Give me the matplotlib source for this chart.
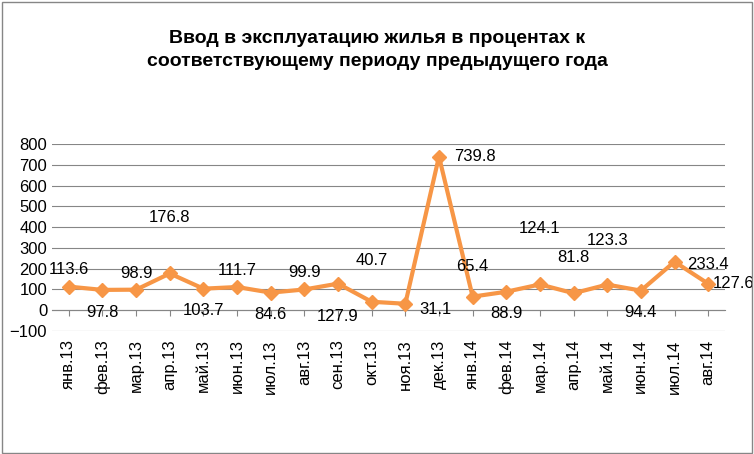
import matplotlib
matplotlib.use("Agg")
import matplotlib.pyplot as plt

categories = ["янв.13","фев.13","мар.13","апр.13","май.13","июн.13","июл.13","авг.13","сен.13","окт.13","ноя.13",
              "дек.13","янв.14","фев.14","мар.14","апр.14","май.14","июн.14","июл.14","авг.14"]
values = [113.6,97.8,98.9,176.8,103.7,111.7,84.6,99.9,127.9,40.7,31.1,739.8,65.4,88.9,124.1,81.8,123.3,94.4,233.4,127.6]
labels = ["113.6","97.8","98.9","176.8","103.7","111.7","84.6","99.9","127.9","40.7","31.1","739.8",
          "65.4","88.9","124.1","81.8","123.3","94.4","233.4","127.6"]
# label offsets in points (dx, dy)
offsets = [(0,12),(0,-16),(0,12),(0,40),(0,-16),(0,12),(0,-16),(0,12),(0,-24),(0,30),(22,-4),(26,0),
           (0,22),(0,-16),(0,40),(0,26),(0,32),(0,-16),(24,-2),(18,0)]

fig = plt.figure(figsize=(7.54,4.54), dpi=100)
ax = fig.add_axes([52/754, 1-331/454, (725-52)/754, (331-144)/454])
x = list(range(len(categories)))
ax.plot(x, values, color="#F79646", lw=3, marker="D", ms=7, zorder=3)
for i,(v,l) in enumerate(zip(values,labels)):
    dx,dy = offsets[i]
    ax.annotate(l,(i,v),xytext=(dx,dy),textcoords="offset points",ha="center",va="center",fontsize=12,
                family="Liberation Sans")
ax.set_ylim(-100,800)
ax.set_yticks(range(-100,801,100))
ax.set_xlim(-0.5,len(categories)-0.5)
ax.set_xticks(x)
ax.set_xticklabels(categories)
ax.grid(axis="y", color="#868686", lw=0.8)
ax.set_axisbelow(True)
for s in ["top","right","left"]:
    ax.spines[s].set_visible(False)
ax.spines["bottom"].set_position(("data",0))
ax.spines["bottom"].set_color("#868686")
ax.tick_params(axis="y", length=0, labelsize=12)
ax.tick_params(axis="x", length=4, color="#868686", pad=17, labelrotation=90, labelsize=12)
for t in ax.get_xticklabels() + ax.get_yticklabels():
    t.set_family("Liberation Sans")
fig.text(0.5, 0.89, "Ввод в эксплуатацию жилья в процентах к\nсоответствующему периоду предыдущего года",
         ha="center", va="center", fontsize=14, fontweight="bold", family="Liberation Sans", linespacing=1.4)
fig.patches.append(plt.Rectangle((0.002,0.003),0.995,0.993,transform=fig.transFigure,fill=False,ec="#868686",lw=1))
fig.savefig("out.png", dpi=100)
